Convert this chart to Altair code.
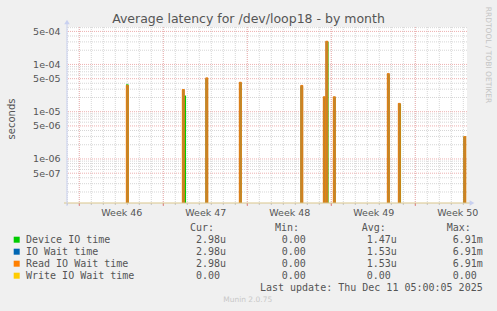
import altair as alt
import pandas as pd

# ---------------- data ----------------
spike_times = [
    "2025-11-14T00:00", "2025-11-18T16:00", "2025-11-20T15:00", "2025-11-23T10:00",
    "2025-11-28T13:00", "2025-11-30T10:00", "2025-11-30T15:00", "2025-12-01T06:00",
    "2025-12-05T18:00", "2025-12-06T16:00", "2025-12-12T03:00",
]
read_values = [3.6e-5, 2.95e-5, 5.2e-5, 4.2e-5, 3.6e-5, 2.07e-5, 3.1e-4, 2.07e-5, 6.4e-5, 1.5e-5, 2.98e-6]
iowait_values = [3.6e-5, 2.95e-5, 5.2e-5, 4.2e-5, 3.6e-5, 2.07e-5, 3.1e-4, 2.07e-5, 6.4e-5, 1.5e-5, 2.98e-6]
device_times = [
    "2025-11-14T00:00", "2025-11-18T19:00", "2025-11-20T15:00", "2025-11-23T10:00",
    "2025-11-28T13:00", "2025-11-30T10:00", "2025-11-30T16:00", "2025-12-01T06:00",
    "2025-12-05T18:00", "2025-12-06T17:00", "2025-12-12T03:00",
]
device_values = [3.8e-5, 2.2e-5, 5.0e-5, 4.0e-5, 3.4e-5, 2.0e-5, 3.0e-4, 2.0e-5, 6.0e-5, 1.45e-5, 2.98e-6]

series_names = ["Device IO time", "IO Wait time", "Read IO Wait time", "Write IO Wait time"]
series_colors = ["#00CC00", "#0066B3", "#FF8000", "#FFCC00"]
cur_text = ["2.98u", "2.98u", "2.98u", "0.00"]
min_text = ["0.00", "0.00", "0.00", "0.00"]
avg_text = ["1.47u", "1.53u", "1.53u", "0.00"]
max_text = ["6.91m", "6.91m", "6.91m", "0.00"]

week_label_times = ["2025-11-13T12:00", "2025-11-20T12:00", "2025-11-27T12:00",
                    "2025-12-04T12:00", "2025-12-11T12:00"]
monday_times = ["2025-11-10T00:00", "2025-11-17T00:00", "2025-11-24T00:00",
                "2025-12-01T00:00", "2025-12-08T00:00"]
day_times = [d.strftime("%Y-%m-%dT00:00") for d in pd.date_range("2025-11-09", "2025-12-12", freq="D")]
y_major = [5e-7, 1e-6, 5e-6, 1e-5, 5e-5, 1e-4, 5e-4]
y_minor = [2e-7, 3e-7, 4e-7, 6e-7, 7e-7, 8e-7, 9e-7,
           2e-6, 3e-6, 4e-6, 6e-6, 7e-6, 8e-6, 9e-6,
           2e-5, 3e-5, 4e-5, 6e-5, 7e-5, 8e-5, 9e-5,
           2e-4, 3e-4, 4e-4, 6e-4]
y_floor = 1e-7

W, H = 400, 176
FONT = "DejaVu Sans"
MONO = "DejaVu Sans Mono"
TXT = "#555555"

def dt(s):
    d = pd.Timestamp(s)
    return alt.DateTime(year=d.year, month=d.month, date=d.day, hours=d.hour, minutes=d.minute)

xscale = alt.Scale(domain=[dt("2025-11-08T23:24"), dt("2025-12-12T07:24")], nice=False, padding=0)
yscale = alt.Scale(type="log", domain=[1.17e-7, 6.2e-4], nice=False, padding=0)

xaxis = alt.Axis(values=[dt(s) for s in week_label_times], format="Week %V",
                 formatType="time", grid=False, ticks=False, domain=False, title=None,
                 labelFont=FONT, labelFontSize=9.5, labelColor=TXT,
                 labelPadding=4, labelFlush=False, labelOverlap=False)
yaxis = alt.Axis(values=y_major, labelExpr="replace(format(datum.value, '.0e'), 'e-', 'e-0')",
                 grid=False, ticks=False, domain=False, title=None,
                 labelFont=FONT, labelFontSize=9.5, labelColor=TXT, labelPadding=7)

def X(f="t:T"):
    return alt.X(f, scale=xscale, axis=xaxis)

def Y(f="v:Q"):
    return alt.Y(f, scale=yscale, axis=yaxis)

one = pd.DataFrame({"k": [0]})

# ---------------- grid ----------------
GRAY = "#D6D6D6"
RED = "#EDB0B0"
vminor = alt.Chart(pd.DataFrame({"t": day_times})).mark_rule(
    color=GRAY, strokeDash=[1, 1], strokeWidth=1).encode(x=X())
vmajor = alt.Chart(pd.DataFrame({"t": monday_times})).mark_rule(
    color=RED, strokeDash=[1, 1], strokeWidth=1).encode(x=X())
hminor = alt.Chart(pd.DataFrame({"v": y_minor})).mark_rule(
    color=GRAY, strokeDash=[1, 1], strokeWidth=1).encode(y=Y())
hmajor = alt.Chart(pd.DataFrame({"v": y_major})).mark_rule(
    color=RED, strokeDash=[1, 1], strokeWidth=1).encode(y=Y())

dticks = alt.Chart(pd.DataFrame({"t": day_times})).mark_rule(color="#C4C4C4").encode(
    x=X(), y=alt.value(H), y2=alt.value(H + 2))
mticks = alt.Chart(pd.DataFrame({"t": monday_times})).mark_rule(color="#E08080").encode(
    x=X(), y=alt.value(H), y2=alt.value(H + 3))

# ---------------- spikes ----------------
dev_df = pd.DataFrame({"t": device_times, "v": device_values})
io_df = pd.DataFrame({"t": spike_times, "v": iowait_values})
rd_df = pd.DataFrame({"t": spike_times, "v": read_values})

dev = alt.Chart(dev_df).mark_bar(size=2.5, color="#00CC00", clip=True).encode(
    x=X(), y=Y(), y2=alt.datum(y_floor))
iow = alt.Chart(io_df).mark_bar(size=2.5, color="#0066B3", clip=True).encode(
    x=X(), y=Y(), y2=alt.datum(y_floor))
rd = alt.Chart(rd_df).mark_bar(size=2.0, fill="#B08838", stroke="#FF8000", strokeWidth=0.9, clip=True).encode(
    x=X(), y=Y(), y2=alt.datum(y_floor))

# ---------------- axis lines & arrows ----------------
xline = alt.Chart(one).mark_rule(color="#D9C68C", strokeWidth=1.2).encode(
    x=alt.value(-3), x2=alt.value(W + 3), y=alt.value(H))
yline = alt.Chart(one).mark_rule(color="#C8D0F0", strokeWidth=1).encode(
    x=alt.value(0), y=alt.value(-4), y2=alt.value(H + 3))
xarrow = alt.Chart(one).mark_point(shape="triangle-right", filled=True, color="#C8D0F0", size=30, opacity=1).encode(
    x=alt.value(W + 5), y=alt.value(H))
yarrow = alt.Chart(one).mark_point(shape="triangle-up", filled=True, color="#C8D0F0", size=30, opacity=1).encode(
    x=alt.value(0), y=alt.value(-5))

# ---------------- texts ----------------
def txt(text, x, y, size=10, font=FONT, color=TXT, align="left", angle=0, baseline="middle", lh=None):
    kw = dict(font=font, fontSize=size, color=color, align=align, baseline=baseline)
    if angle:
        kw["angle"] = angle
    if lh:
        kw["lineHeight"] = lh
    return alt.Chart(one).mark_text(**kw).encode(
        x=alt.value(x), y=alt.value(y), text=alt.value(text))

title = txt("Average latency for /dev/loop18 - by month", 181.5, -8, size=12.5, align="center")
ylab = txt("seconds", -55, 92, size=10, angle=270, align="center")
rrd = txt("RRDTOOL / TOBI OETIKER", 421, 28, size=7.5, color="#C4C4C4", angle=90, align="center")

LY = 216.3
LH = 12
headers = [txt("Cur:", 123, LY - 12, font=MONO, baseline="alphabetic"),
           txt("Min:", 208, LY - 12, font=MONO, baseline="alphabetic"),
           txt("Avg:", 294.7, LY - 12, font=MONO, baseline="alphabetic"),
           txt("Max:", 379.7, LY - 12, font=MONO, baseline="alphabetic")]
cols = [txt(series_names, -41, LY, font=MONO, baseline="alphabetic", lh=LH),
        txt(cur_text, 129, LY, font=MONO, baseline="alphabetic", lh=LH),
        txt(min_text, 214.7, LY, font=MONO, baseline="alphabetic", lh=LH),
        txt(avg_text, 299.7, LY, font=MONO, baseline="alphabetic", lh=LH),
        txt(max_text, 385.7, LY, font=MONO, baseline="alphabetic", lh=LH)]
squares = [alt.Chart(one).mark_square(size=36, color=c, opacity=1).encode(
    x=alt.value(-50.3), y=alt.value(212.7 + i * 12)) for i, c in enumerate(series_colors)]
upd = txt("Last update: Thu Dec 11 05:00:05 2025", 415.7, LY + 4 * LH, font=MONO,
          baseline="alphabetic", align="right")
munin = txt("Munin 2.0.75", 180.7, 273, size=7.5, color="#C8C8C8", align="center")

chart = alt.layer(
    vminor, hminor, vmajor, hmajor, dticks, mticks,
    dev, iow, rd, xline, yline, xarrow, yarrow,
    title, ylab, rrd, *headers, *cols, *squares, upd, munin,
).properties(
    width=W, height=H,
    autosize=alt.AutoSizeParams(type="none"),
    padding={"left": 67, "top": 27, "right": 30, "bottom": 108},
    background="#F0F0F0",
).configure_view(stroke=None, fill="white")

chart.save("out.html", embed_options={"renderer": "svg", "actions": False})
